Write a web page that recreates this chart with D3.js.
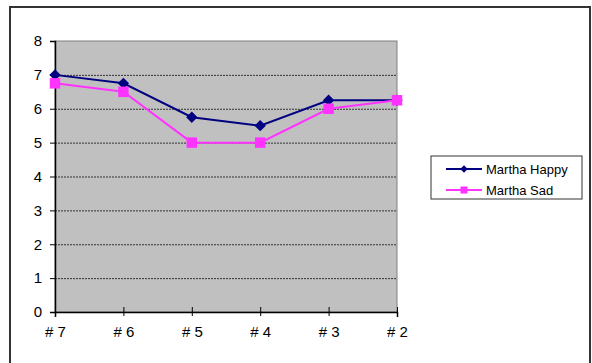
<!DOCTYPE html>
<html>
<head>
<meta charset="utf-8">
<script src="https://cdn.jsdelivr.net/npm/d3@7"></script>
<style>
  body { margin: 0; background: #fff; }
  svg text { font-family: "Liberation Sans", Arial, sans-serif; fill: #000; }
</style>
</head>
<body>
<svg id="chart" width="592" height="363"></svg>
<script>
const categories = ['# 7', '# 6', '# 5', '# 4', '# 3', '# 2'];
const happy = [7, 6.75, 5.75, 5.5, 6.25, 6.25];
const sad = [6.75, 6.5, 5, 5, 6, 6.25];
const yTicks = [0, 1, 2, 3, 4, 5, 6, 7, 8];
const seriesNames = ['Martha Happy', 'Martha Sad'];

const svg = d3.select('#chart');

const plot = { left: 55, top: 41, right: 397, bottom: 312 };

// outer frame
svg.append('rect')
    .attr('x', 10).attr('y', 7)
    .attr('width', 580).attr('height', 370)
    .attr('fill', 'none')
    .attr('stroke', '#333')
    .attr('stroke-width', 2);

let x = d3.scalePoint()
            .domain(categories)
            .range([plot.left, plot.right]);
let y = d3.scaleLinear()
            .domain([0, 8])
            .range([plot.bottom, plot.top]);

svg.append('rect')
    .attr('x', plot.left).attr('y', plot.top)
    .attr('width', plot.right - plot.left)
    .attr('height', plot.bottom - plot.top)
    .attr('fill', '#c0c0c0')
    .attr('stroke', '#808080')
    .attr('stroke-width', 1);

// dashed gridlines
svg.selectAll('.grid')
    .data(yTicks.filter(d => d > 0 && d < 8))
    .enter()
        .append('line')
        .attr('x1', plot.left).attr('x2', plot.right)
        .attr('y1', d => y(d) + 0.5).attr('y2', d => y(d) + 0.5)
        .attr('stroke', '#333')
        .attr('stroke-dasharray', '2,1')
        .attr('stroke-width', 1);

// y axis
let yAxis = svg.append('g')
    .attr('transform', `translate(${plot.left},0)`)
    .call(d3.axisLeft(y).tickValues(yTicks).tickSize(5).tickPadding(8));
yAxis.select('.domain').attr('stroke', '#000').attr('stroke-width', 1.5);
yAxis.selectAll('.tick line').attr('stroke', '#000');
yAxis.selectAll('text').style('font-size', '15px').attr('fill', '#000');

// x axis
let xAxis = svg.append('g')
    .attr('transform', `translate(0,${plot.bottom})`)
    .call(d3.axisBottom(x).tickSize(5).tickPadding(9));
xAxis.select('.domain').attr('stroke', '#000').attr('stroke-width', 1.5);
xAxis.selectAll('.tick line').attr('stroke', '#000').attr('y1', -5).attr('y2', 4);
xAxis.selectAll('text').style('font-size', '15px').attr('fill', '#000');

let line = d3.line()
    .x((d, i) => x(categories[i]))
    .y(d => y(d));

const series = [
    { name: seriesNames[0], values: happy, color: '#000080', symbol: d3.symbolSquare, size: 64, rotate: 45 },
    { name: seriesNames[1], values: sad, color: '#ff33ff', symbol: d3.symbolSquare, size: 110, rotate: 0 }
];

series.forEach(s => {
    svg.append('path')
        .datum(s.values)
        .attr('d', line)
        .attr('fill', 'none')
        .attr('stroke', s.color)
        .attr('stroke-width', 2);

    svg.selectAll(null)
        .data(s.values)
        .enter()
            .append('path')
            .attr('d', d3.symbol().type(s.symbol).size(s.size))
            .attr('transform', (d, i) => `translate(${x(categories[i])},${y(d)}) rotate(${s.rotate})`)
            .attr('fill', s.color);
});

// legend
let legend = svg.append('g').attr('transform', 'translate(431,156)');
legend.append('rect')
    .attr('width', 151).attr('height', 43)
    .attr('fill', '#fff')
    .attr('stroke', '#333')
    .attr('stroke-width', 1);

let items = legend.selectAll('.item')
    .data(series)
    .enter()
        .append('g')
        .attr('transform', (d, i) => `translate(0,${13 + i * 21})`);
items.append('line')
    .attr('x1', 15).attr('x2', 51)
    .attr('stroke', d => d.color)
    .attr('stroke-width', 2);
items.append('path')
    .attr('d', d => d3.symbol().type(d.symbol).size(d.size * 0.45)())
    .attr('transform', d => `translate(33,0) rotate(${d.rotate})`)
    .attr('fill', d => d.color);
items.append('text')
    .attr('x', 55).attr('dy', '0.35em')
    .style('font-size', '13px')
    .text(d => d.name);
</script>
</body>
</html>
